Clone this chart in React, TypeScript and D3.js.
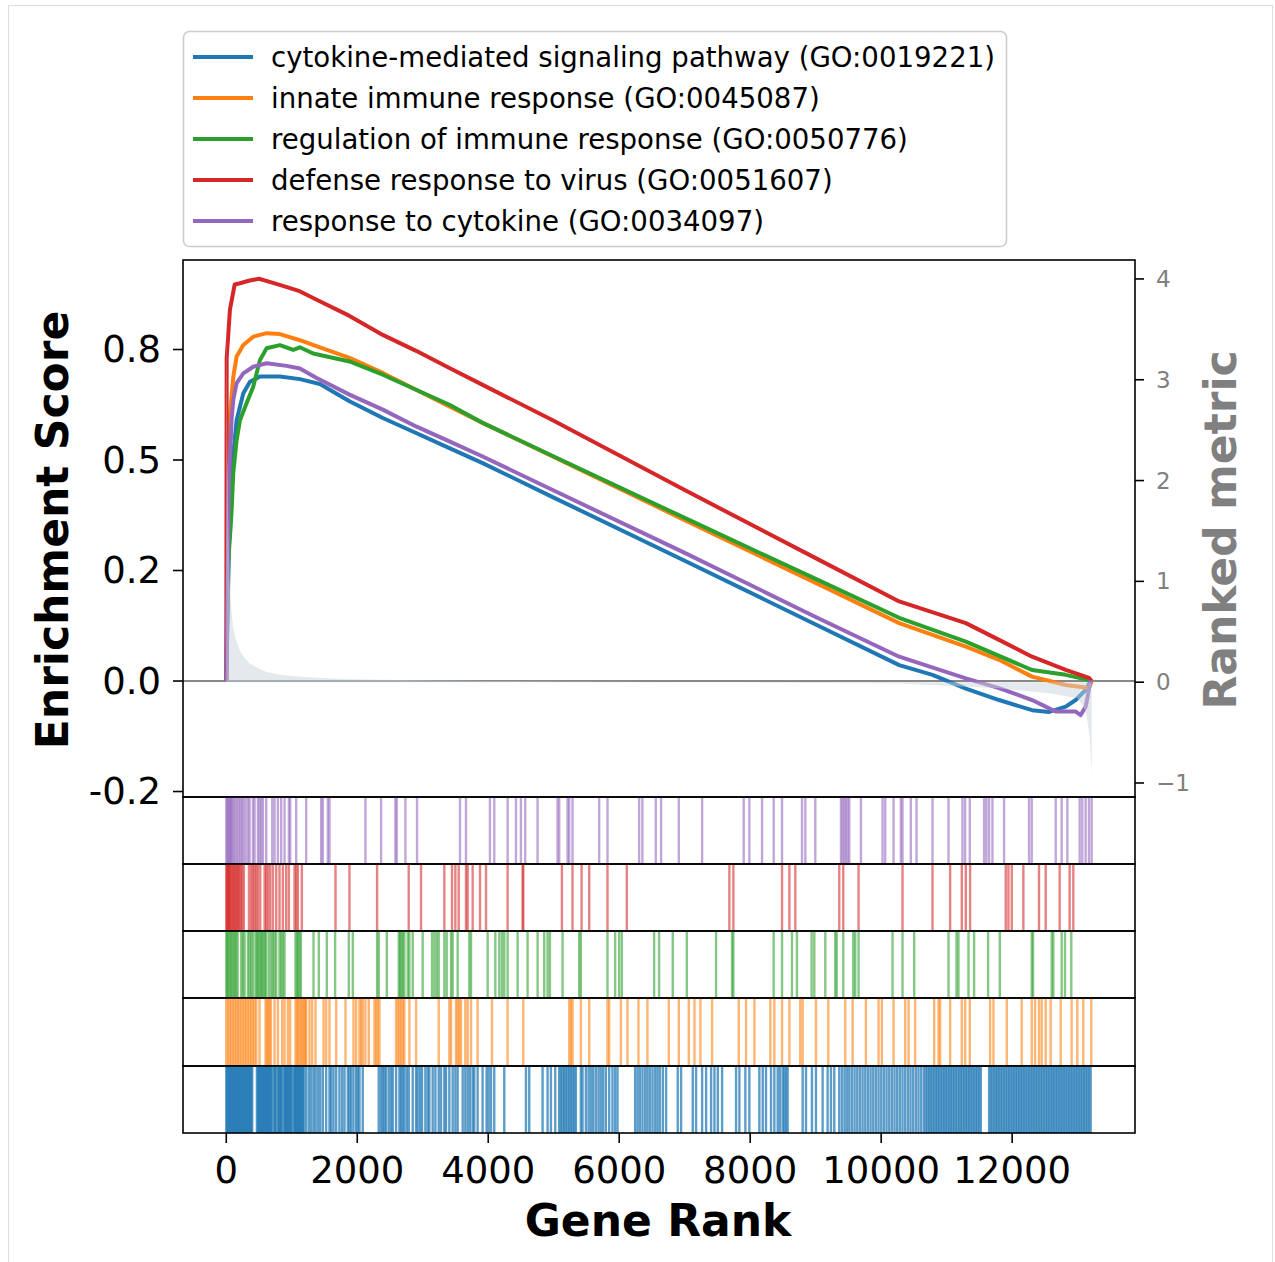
import React from 'react';
import * as d3 from 'd3';

const N = 13215;

const TERMS = [
  'cytokine-mediated signaling pathway (GO:0019221)',
  'innate immune response (GO:0045087)',
  'regulation of immune response (GO:0050776)',
  'defense response to virus (GO:0051607)',
  'response to cytokine (GO:0034097)',
];
const COLORS = ['#1f77b4', '#ff7f0e', '#2ca02c', '#d62728', '#9467bd'];

type P = [number, number];

const ES_BLUE: P[] = [[0,0],[40,0.30],[100,0.50],[158,0.59],[260,0.651],[362,0.677],[514,0.689],[819,0.689],[1124,0.683],[1429,0.672],[1882,0.633],[2390,0.595],[2898,0.561],[3407,0.527],[3915,0.493],[5000,0.415],[7000,0.272],[9000,0.128],[10275,0.036],[10783,0.014],[11293,-0.017],[11800,-0.043],[12304,-0.066],[12564,-0.07],[12818,-0.058],[12970,-0.043],[13123,-0.02],[13199,0.0]];
const ES_ORANGE: P[] = [[0,0],[30,0.45],[56,0.602],[107,0.688],[158,0.734],[260,0.760],[412,0.779],[616,0.787],[819,0.785],[1124,0.771],[1429,0.755],[1882,0.731],[2390,0.697],[2898,0.659],[3407,0.621],[3915,0.584],[5000,0.507],[7000,0.364],[9000,0.222],[10275,0.131],[11293,0.078],[11800,0.048],[12304,0.010],[12818,-0.009],[13173,-0.016],[13215,0]];
const ES_GREEN: P[] = [[0,0],[30,0.27],[67,0.35],[82,0.387],[107,0.471],[158,0.545],[209,0.590],[311,0.629],[412,0.666],[514,0.726],[616,0.753],[819,0.760],[1022,0.749],[1124,0.755],[1327,0.741],[1882,0.723],[2390,0.693],[2898,0.659],[3407,0.625],[3915,0.584],[5000,0.508],[7000,0.369],[9000,0.231],[10275,0.143],[11293,0.089],[12304,0.025],[12818,0.014],[13173,0.002],[13215,0]];
const ES_RED: P[] = [[0,0],[6,0.73],[56,0.84],[128,0.897],[209,0.90],[357,0.906],[500,0.91],[662,0.903],[865,0.894],[1120,0.882],[1373,0.863],[1882,0.826],[2390,0.783],[2898,0.747],[3407,0.708],[3915,0.670],[5000,0.589],[7000,0.432],[9000,0.278],[10275,0.180],[11293,0.131],[11800,0.093],[12304,0.055],[12818,0.025],[13173,0.007],[13215,0]];
const ES_PURPLE: P[] = [[0,0],[40,0.45],[82,0.593],[107,0.636],[158,0.674],[260,0.696],[412,0.711],[616,0.719],[921,0.713],[1124,0.707],[1373,0.686],[1882,0.648],[2390,0.614],[2898,0.576],[3407,0.542],[3915,0.508],[5000,0.431],[7000,0.290],[9000,0.145],[10275,0.055],[11293,0.006],[11800,-0.016],[12304,-0.043],[12457,-0.054],[12665,-0.069],[12970,-0.069],[13046,-0.077],[13123,-0.058],[13199,0.002]];

const RANK_METRIC: P[] = [[0,3.8],[5,3.2],[15,2.4],[30,1.6],[50,1.0],[80,0.7],[102,0.55],[150,0.42],[204,0.317],[280,0.24],[357,0.186],[450,0.15],[610,0.102],[865,0.069],[1368,0.043],[1882,0.03],[2893,0.02],[4000,0.012],[6000,0.004],[8000,-0.004],[10275,-0.013],[11800,-0.06],[12564,-0.11],[13000,-0.16],[13120,-0.28],[13180,-0.51],[13214,-0.9]];

const HITS_PURPLE = [0,15,31,46,61,76,92,112,137,163,188,214,239,264,295,331,356,407,432,483,508,534,559,610,702,737,788,839,890,956,976,1068,1220,1449,1474,1551,1576,2125,2364,2583,2603,2735,2913,3569,3660,4026,4092,4296,4423,4499,4565,4753,5058,5084,5211,5236,5287,5694,5821,6304,6354,6558,6640,6910,7266,7901,7987,8181,8359,8486,8791,8842,8994,9386,9411,9436,9462,9487,9513,9691,10021,10062,10189,10301,10326,10453,10540,10784,11028,11241,11282,11353,11572,11607,11648,11699,11877,12258,12299,12665,12756,12843,13031,13071,13122,13173,13214];
const HITS_RED = [0,10,20,31,41,51,66,81,97,112,127,142,158,173,188,203,224,244,269,346,381,407,432,458,483,519,585,610,636,671,712,763,813,864,915,956,1042,1068,1093,1154,1668,1881,2303,2786,2974,3330,3447,3498,3549,3660,3686,3762,3874,3966,4296,4525,4535,5125,5287,5425,5542,5821,6116,7682,7743,8486,8598,8689,9360,9421,9655,10326,10784,11053,11231,11292,11358,11902,11943,11994,12171,12410,12512,12725,12878,12934];
const HITS_GREEN = [0,15,31,51,71,92,112,132,153,173,229,254,280,331,356,381,407,447,468,488,508,529,549,569,590,610,651,686,712,737,763,813,839,864,890,1057,1078,1098,1118,1139,1332,1413,1535,1662,1871,1932,2303,2328,2451,2634,2654,2675,2695,2720,2771,2796,2847,2999,3142,3178,3213,3244,3330,3366,3432,3457,3533,3711,3737,3991,4108,4169,4210,4245,4296,4449,4601,4754,4855,4906,4942,5135,5389,5414,5821,5938,5999,6040,6533,6609,6818,7032,7479,7723,7743,8359,8486,8638,8714,8938,8979,9147,9299,9320,9421,9574,9604,9655,10174,10326,10504,11028,11150,11180,11333,11419,11633,11811,12299,12319,12604,12629,12756,12807,12903];
const HITS_ORANGE = [0,25,51,76,102,127,153,178,203,229,254,280,305,330,356,381,407,432,458,508,600,620,641,661,681,737,788,854,890,941,976,1057,1078,1098,1118,1144,1164,1185,1205,1220,1271,1312,1363,1485,1525,1576,1678,1820,1942,1983,2034,2059,2084,2125,2176,2262,2288,2313,2339,2593,2619,2644,2669,2695,2720,2796,2898,3244,3406,3432,3508,3533,3559,3584,3650,3686,3737,3838,4057,4296,4535,5237,5262,5287,5414,5542,5821,5847,6025,6126,6294,6431,6757,6910,7062,7149,7240,7418,7825,7937,8064,8308,8369,8486,8598,8765,8801,9004,9193,9452,9564,9767,9960,10011,10189,10367,10418,10519,10809,10875,10901,11053,11231,11282,11353,11663,11714,11918,12146,12299,12350,12410,12451,12512,12588,12741,12908,12995,13086,13208];
const HITS_BLUE = [0,14,30,47,60,77,91,108,121,138,152,169,182,199,213,230,243,260,274,291,304,321,335,352,365,382,396,
  468,484,497,515,528,545,558,576,589,606,619,637,650,667,680,696,728,741,759,787,804,818,835,848,881,894,911,924,942,955,972,985,1003,1033,1046,1064,1077,1094,1107,1125,1138,1155,1168,1186,
  1220,1261,1296,1332,1362,1398,1434,1474,1525,1576,1601,1637,1678,1728,1769,1805,1856,1881,1906,1942,1983,2008,2034,2084,
  2328,2364,2389,2415,2440,2481,2517,2542,2593,2644,2669,2695,2720,2756,2786,2847,2898,2923,2959,2989,3040,3076,3101,3152,3193,3244,3279,3330,3355,3406,3457,3498,3533,3610,3650,3686,3721,3762,3787,3838,3914,3975,4006,4042,4092,
  4245,4576,4626,4830,4906,4957,5023,5084,5109,5135,5160,5185,5211,5236,5262,5287,5313,5338,
  5414,5440,5491,5532,5567,5603,5643,5684,5719,5755,5796,5847,5897,5938,5974,
  6243,6279,6314,6355,6396,6431,6467,6508,6548,6584,6619,6666,6716,6894,6945,7123,7174,7266,7327,7403,7454,7505,7571,7784,7835,7926,7987,8140,8191,8241,8318,8369,8420,8455,8496,8521,8547,8572,
  8801,8852,8943,9004,9106,9182,9233,9284,
  9360,9401,9441,9477,9513,9553,9594,9635,9675,9716,9757,9797,9838,9879,9919,9960,10001,10041,10082,10123,10163,10204,10245,10285,10326,10367,10408,10448,10489,10530,10570,10611,10652,
  10682,10707,10733,10758,10784,10809,10835,10860,10885,10911,10936,10962,10987,11013,11038,11063,11089,11114,11140,11165,11191,11216,11241,11267,11292,11318,11343,11368,11394,11419,11445,11470,11496,11521,
  11648,11673,11699,11724,11750,11775,11800,11826,11851,11877,11902,11928,11953,11978,12004,12029,12055,12080,12106,12131,12156,12182,12207,12233,12258,12283,12309,12334,12360,12385,12411,12436,12461,12487,12512,12538,12563,12589,12614,12639,12665,12690,12716,12741,12766,12792,12817,12843,12868,12894,12919,12944,12970,12995,13021,13046,13072,13097,13122,13148,13173,13199];

const ES_SERIES = [ES_BLUE, ES_ORANGE, ES_GREEN, ES_RED, ES_PURPLE];
const HIT_SERIES = [HITS_BLUE, HITS_ORANGE, HITS_GREEN, HITS_RED, HITS_PURPLE];

const ES_TICKS = [-0.25, 0, 0.25, 0.5, 0.75];
const ES_TICK_LABELS = ['-0.2', '0.0', '0.2', '0.5', '0.8'];
const METRIC_TICKS = [-1, 0, 1, 2, 3, 4];
const METRIC_TICK_LABELS = ['\u22121', '0', '1', '2', '3', '4'];
const X_TICKS = [0, 2000, 4000, 6000, 8000, 10000, 12000];

const L = 183, R = 1135, TOP = 260, MAIN_BOTTOM = 797;
const ROW_EDGES = [797, 864, 931, 998, 1066, 1133];
const FONT = 'DejaVu Sans';

export default function App() {
  const x = d3.scaleLinear().domain([-0.05 * N, 1.05 * N]).range([L, R]);
  const yES = d3.scaleLinear().domain([-0.2624, 0.9525]).range([MAIN_BOTTOM, TOP]);
  const yM = d3.scaleLinear().domain([-1.139, 4.188]).range([MAIN_BOTTOM, TOP]);
  const line = d3.line<P>().x(d => x(d[0])).y(d => yES(d[1]));
  const area = d3.area<P>().x(d => x(d[0])).y0(yM(0)).y1(d => yM(d[1]));
  const BOTTOM = ROW_EDGES[ROW_EDGES.length - 1];

  return (
    <svg width={1275} height={1262} style={{ position: 'absolute', left: 0, top: 0, background: '#fff' }} fontFamily={FONT}>
      <rect x={8.5} y={5.5} width={1264} height={1300} fill="none" stroke="#dddddd" strokeWidth={1} />
      <defs>
        <clipPath id="mainClip"><rect x={L} y={TOP} width={R - L} height={MAIN_BOTTOM - TOP} /></clipPath>
      </defs>

      {/* main ES panel */}
      <g clipPath="url(#mainClip)">
        <line x1={L} x2={R} y1={yES(0)} y2={yES(0)} stroke="#888888" strokeWidth={1.8} />
        {ES_SERIES.map((s, i) => (
          <path key={i} d={line(s) || ''} fill="none" stroke={COLORS[i]} strokeWidth={4} strokeLinejoin="round" />
        ))}
        <path d={area(RANK_METRIC) || ''} fill="#C9D3DB" fillOpacity={0.5} />
      </g>
      <rect x={L} y={TOP} width={R - L} height={MAIN_BOTTOM - TOP} fill="none" stroke="#000" strokeWidth={1.6} />

      {/* left ticks */}
      {ES_TICKS.map((t, i) => (
        <g key={i}>
          <line x1={L - 10} x2={L} y1={yES(t)} y2={yES(t)} stroke="#000" strokeWidth={1.6} />
          <text x={L - 22} y={yES(t)} textAnchor="end" dominantBaseline="central" fontSize={37} fill="#000">{ES_TICK_LABELS[i]}</text>
        </g>
      ))}
      {/* right ticks */}
      {METRIC_TICKS.map((t, i) => (
        <g key={i}>
          <line x1={R} x2={R + 9} y1={yM(t)} y2={yM(t)} stroke="#000" strokeWidth={1.6} />
          <text x={R + 21} y={yM(t)} textAnchor="start" dominantBaseline="central" fontSize={23} fill="#808080">{METRIC_TICK_LABELS[i]}</text>
        </g>
      ))}

      {/* hit rows: purple top ... blue bottom */}
      {[4, 3, 2, 1, 0].map((si, row) => {
        const y0 = ROW_EDGES[row], y1 = ROW_EDGES[row + 1];
        return (
          <g key={si}>
            {HIT_SERIES[si].map((h, j) => (
              <line key={j} x1={x(h)} x2={x(h)} y1={y0} y2={y1} stroke={COLORS[si]} strokeWidth={2.4} strokeOpacity={si === 0 ? 0.72 : 0.58} />
            ))}
            <rect x={L} y={y0} width={R - L} height={y1 - y0} fill="none" stroke="#000" strokeWidth={1.6} />
          </g>
        );
      })}

      {/* x ticks */}
      {X_TICKS.map((t, i) => (
        <g key={i}>
          <line x1={x(t)} x2={x(t)} y1={BOTTOM} y2={BOTTOM + 10} stroke="#000" strokeWidth={1.6} />
          <text x={x(t)} y={BOTTOM + 37} textAnchor="middle" dominantBaseline="central" fontSize={37} fill="#000">{t}</text>
        </g>
      ))}

      {/* axis labels */}
      <text x={(L + R) / 2 - 1} y={1220} textAnchor="middle" dominantBaseline="central" fontSize={44} fontWeight="bold" fill="#000">Gene Rank</text>
      <text transform={`translate(52,530) rotate(-90)`} textAnchor="middle" dominantBaseline="central" fontSize={44} fontWeight="bold" fill="#000">Enrichment Score</text>
      <text transform={`translate(1220,530) rotate(-90)`} textAnchor="middle" dominantBaseline="central" fontSize={44} fontWeight="bold" fill="#808080">Ranked metric</text>

      {/* legend */}
      <rect x={183.5} y={31.5} width={823} height={215} rx={6} fill="#fff" fillOpacity={0.8} stroke="#cccccc" strokeWidth={1.6} />
      {TERMS.map((t, i) => (
        <g key={i}>
          <line x1={193} x2={253} y1={57 + 41 * i} y2={57 + 41 * i} stroke={COLORS[i]} strokeWidth={4} />
          <text x={271} y={57 + 41 * i} dominantBaseline="central" fontSize={27.6} fill="#000">{t}</text>
        </g>
      ))}
    </svg>
  );
}
